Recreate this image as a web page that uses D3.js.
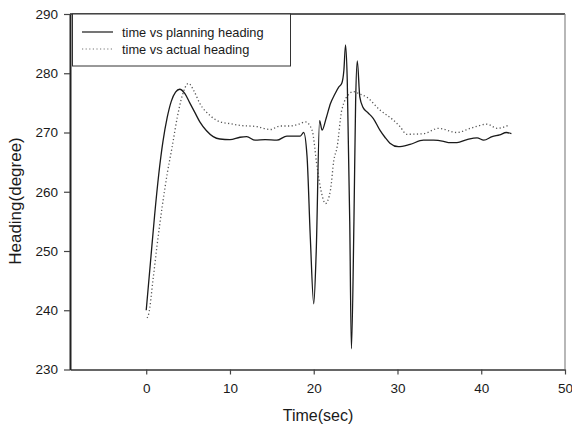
<!DOCTYPE html>
<html>
<head>
<meta charset="utf-8">
<script src="https://cdn.jsdelivr.net/npm/d3@7"></script>
<style>
  body { margin: 0; background: #fff; }
  text { font-family: "Liberation Sans", Arial, sans-serif; fill: #1a1a1a; }
</style>
</head>
<body>
<div id="chart"></div>
<script>
// time (sec) vs planning heading (solid)
const planTime = [0, 0.5, 1, 1.5, 2, 2.5, 3, 3.5, 4.0, 4.6, 5.2, 5.8, 6.4, 7.2, 8.0, 8.8, 10, 11.2, 12, 13, 14.2, 15.6, 16.8, 17.6, 18.4, 18.8, 19.2, 19.6, 20.0, 20.3, 20.7, 21.0, 21.5, 22.0, 22.5, 23.0, 23.35, 23.6, 23.8, 24.0, 24.3, 24.5, 24.8, 25.0, 25.2, 25.5, 25.9, 26.5, 27.1, 27.9, 28.5, 29.1, 30.1, 31.5, 33.1, 34.3, 35.5, 36.1, 37.1, 38.3, 39.5, 40.3, 41.3, 42.2, 43.0, 43.6];
const planHeading = [240, 248, 256, 263, 268.5, 272.5, 275.3, 276.8, 277.3, 276.6, 275.0, 273.4, 271.8, 270.3, 269.3, 268.9, 268.8, 269.2, 269.3, 268.7, 268.8, 268.7, 269.4, 269.4, 269.4, 270.0, 266.0, 252.0, 241.1, 250.0, 272.0, 270.4, 272.5, 274.9, 276.4, 277.7, 278.3, 280.5, 284.8, 279.0, 255.0, 233.5, 255.0, 275.0, 282.1, 276.0, 274.2, 273.3, 272.4, 270.4, 269.2, 268.2, 267.6, 268.0, 268.7, 268.7, 268.5, 268.3, 268.3, 268.8, 269.1, 268.7, 269.3, 269.6, 270.0, 269.8];

// time (sec) vs actual heading (dotted)
const actualTime = [0.1, 0.3, 0.8, 1.3, 1.9, 2.5, 3.1, 3.7, 4.3, 5.05, 5.7, 6.4, 7.6, 8.8, 10, 11.2, 13.2, 14.8, 16.0, 17.2, 18.2, 19.0, 19.8, 20.4, 20.9, 21.4, 22.0, 22.4, 22.8, 23.35, 24.3, 24.75, 25.5, 26.3, 27.9, 29.5, 30.3, 31.1, 33.1, 34.9, 37.1, 38.7, 40.7, 41.9, 43.2];
const actualHeading = [238.7, 239.4, 245, 251, 257.4, 263, 267.6, 272.5, 276.2, 278.3, 277.0, 274.9, 272.9, 271.8, 271.5, 271.2, 271.0, 270.5, 271.1, 271.1, 271.4, 271.8, 270.4, 264.2, 260.0, 258.0, 260.3, 265.3, 267.6, 273.8, 276.6, 276.9, 276.5, 276.0, 273.8, 272.1, 271.0, 269.7, 269.8, 270.7, 270.0, 270.7, 271.4, 270.7, 271.2];

const xTicks = [0, 10, 20, 30, 40, 50];
const yTicks = [230, 240, 250, 260, 270, 280, 290];

const W = 572, H = 432;
const plot = {left: 70, right: 565, top: 14, bottom: 369.5};

const svg = d3.select("#chart")
    .append("svg")
    .attr("width", W)
    .attr("height", H);

const x = d3.scaleLinear()
    .domain([-9.1, 50])
    .range([plot.left, plot.right]);
const y = d3.scaleLinear()
    .domain([230, 290])
    .range([plot.bottom, plot.top]);

// frame: top and right
svg.append("line")
    .attr("x1", plot.left).attr("x2", plot.right)
    .attr("y1", plot.top).attr("y2", plot.top)
    .attr("stroke", "#222").attr("stroke-width", 1.5);
svg.append("line")
    .attr("x1", plot.right).attr("x2", plot.right)
    .attr("y1", plot.top).attr("y2", plot.bottom)
    .attr("stroke", "#888").attr("stroke-width", 1.2);

// axes
let xAxis = svg.append("g")
    .attr("transform", `translate(0, ${plot.bottom})`)
    .call(d3.axisBottom(x).tickValues(xTicks).tickSize(5).tickPadding(9).tickSizeOuter(0));
xAxis.select(".domain").attr("stroke", "#666").attr("stroke-width", 2);
xAxis.selectAll(".tick line").attr("stroke", "#444").attr("stroke-width", 1.2);
xAxis.selectAll("text").style("font-size", "13.5px").attr("fill", "#1a1a1a");

let yAxis = svg.append("g")
    .attr("transform", `translate(${plot.left}, 0)`)
    .call(d3.axisLeft(y).tickValues(yTicks).tickSize(6).tickPadding(6).tickSizeOuter(0));
yAxis.select(".domain").attr("stroke", "#222").attr("stroke-width", 2);
yAxis.selectAll(".tick line").attr("stroke", "#444").attr("stroke-width", 1.2);
yAxis.selectAll("text").style("font-size", "13.5px").attr("fill", "#1a1a1a");

// axis titles
svg.append("text")
    .attr("x", 318)
    .attr("y", 421)
    .attr("text-anchor", "middle")
    .style("font-size", "16px")
    .text("Time(sec)");
svg.append("text")
    .attr("transform", "translate(21, 201) rotate(-90)")
    .attr("text-anchor", "middle")
    .style("font-size", "17px")
    .text("Heading(degree)");

// lines
let line = d3.line()
    .x(d => x(d[0]))
    .y(d => y(d[1]))
    .curve(d3.curveMonotoneX);

svg.append("path")
    .datum(d3.zip(actualTime, actualHeading))
    .attr("fill", "none")
    .attr("stroke", "#555")
    .attr("stroke-width", 1.3)
    .attr("stroke-dasharray", "1.2,2.4")
    .attr("d", line);

svg.append("path")
    .datum(d3.zip(planTime, planHeading))
    .attr("fill", "none")
    .attr("stroke", "#1a1a1a")
    .attr("stroke-width", 1.3)
    .attr("d", line);

// legend
svg.append("rect")
    .attr("x", 72.5)
    .attr("y", plot.top)
    .attr("width", 218)
    .attr("height", 52)
    .attr("fill", "#fff")
    .attr("stroke", "#333")
    .attr("stroke-width", 1);
svg.append("line")
    .attr("x1", 82).attr("x2", 113)
    .attr("y1", 32).attr("y2", 32)
    .attr("stroke", "#1a1a1a").attr("stroke-width", 1.2);
svg.append("line")
    .attr("x1", 82).attr("x2", 113)
    .attr("y1", 49).attr("y2", 49)
    .attr("stroke", "#777").attr("stroke-width", 1.2)
    .attr("stroke-dasharray", "1.2,2.4");
svg.append("text")
    .attr("x", 122)
    .attr("y", 36.5)
    .style("font-size", "12.8px")
    .text("time vs planning heading");
svg.append("text")
    .attr("x", 122)
    .attr("y", 53.5)
    .style("font-size", "12.8px")
    .text("time vs actual heading");
</script>
</body>
</html>
